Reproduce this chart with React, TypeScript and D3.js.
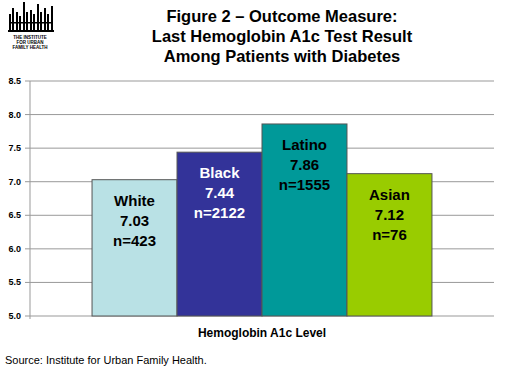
import React from "react";
import * as d3 from "d3";

// chart data
const groups = ["White", "Black", "Latino", "Asian"];
const values = [7.03, 7.44, 7.86, 7.12];
const counts = [423, 2122, 1555, 76];
const barColors = ["#B9E1E5", "#333399", "#009999", "#99CC00"];
const labelColors = ["#000", "#fff", "#000", "#000"];
const yTicks = [5.0, 5.5, 6.0, 6.5, 7.0, 7.5, 8.0, 8.5];
const titleLines = [
    "Figure 2 \u2013 Outcome Measure:",
    "Last Hemoglobin A1c Test Result",
    "Among Patients with Diabetes",
];

// logo comb bars: [x, top]
const logoBars = [
    [9, 14], [12, 8], [16, 12], [19, 16], [23, 2], [26, 12], [30, 10],
    [33, 14], [37, 4], [40, 12], [44, 8], [47, 14], [51, 6],
];

const font = "Arial, 'Liberation Sans', sans-serif";

const App = () => {
    const width = 527, height = 369;
    const left = 30, right = 494, top = 81, bottom = 316;

    const x = d3.scaleBand()
        .domain(groups)
        .range([left, right])
        .paddingInner(0)
        .paddingOuter(0.73);

    const y = d3.scaleLinear()
        .domain([5, 8.5])
        .range([bottom, top]);

    return (
        <svg width={width} height={height} style={{ position: "absolute", left: 0, top: 0 }} fontFamily={font}>
            <rect width={width} height={height} fill="#fff" />

            {/* logo */}
            <g fill="#000">
                {logoBars.map(([bx, bt], i) => (
                    <rect key={i} x={bx} y={bt} width={2} height={30 - bt} />
                ))}
                <rect x={9} y={22} width={44} height={1.5} />
                <rect x={8} y={30} width={46} height={2} />
                <text x={30} y={39} fontSize={4.5} textAnchor="middle" fontWeight="bold">THE INSTITUTE</text>
                <text x={30} y={44} fontSize={4.5} textAnchor="middle" fontWeight="bold">FOR URBAN</text>
                <text x={30} y={49} fontSize={4.5} textAnchor="middle" fontWeight="bold">FAMILY HEALTH</text>
            </g>

            {/* title */}
            {titleLines.map((t, i) => (
                <text key={i} x={282} y={22 + i * 20} textAnchor="middle" fontSize={16.5} fontWeight="bold">{t}</text>
            ))}

            {/* grid */}
            {yTicks.map((t) => (
                <g key={t}>
                    <line x1={left} x2={right} y1={y(t)} y2={y(t)} stroke="#999" strokeWidth={1} />
                    <line x1={left - 5} x2={left} y1={y(t)} y2={y(t)} stroke="#999" />
                    <text x={left - 9} y={y(t) + 3} textAnchor="end" fontSize={9} fontWeight="bold">{t.toFixed(1)}</text>
                </g>
            ))}
            <line x1={left} x2={left} y1={top} y2={bottom + 3} stroke="#999" />

            {/* bars */}
            {groups.map((g, i) => {
                const bx = x(g) as number;
                const cx = bx + x.bandwidth() / 2;
                const by = y(values[i]);
                return (
                    <g key={g}>
                        <rect x={bx} y={by} width={x.bandwidth()} height={bottom - by}
                            fill={barColors[i]} stroke="#555" strokeWidth={1} />
                        <g fill={labelColors[i]} fontSize={15} fontWeight="bold" textAnchor="middle">
                            <text x={cx} y={by + 26}>{g}</text>
                            <text x={cx} y={by + 46}>{values[i].toFixed(2)}</text>
                            <text x={cx} y={by + 66}>{"n=" + counts[i]}</text>
                        </g>
                    </g>
                );
            })}

            {/* axis label */}
            <text x={(left + right) / 2} y={337} textAnchor="middle" fontSize={12} fontWeight="bold">Hemoglobin A1c Level</text>

            {/* source */}
            <text x={5} y={364} fontSize={11}>Source: Institute for Urban Family Health.</text>
        </svg>
    );
};

export default App;
